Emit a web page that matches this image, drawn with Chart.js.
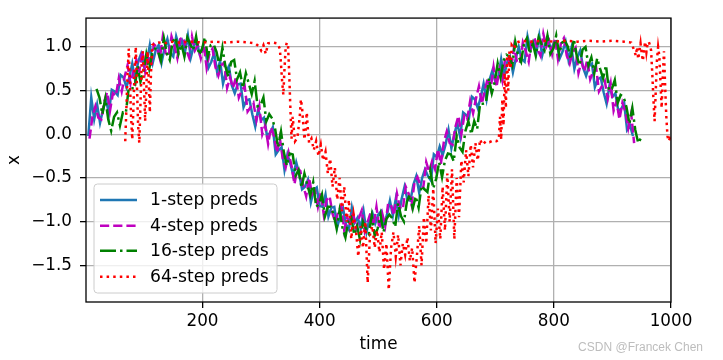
<!DOCTYPE html>
<html>
<head>
<meta charset="utf-8">
<script src="https://cdn.jsdelivr.net/npm/chart.js@4/dist/chart.umd.min.js"></script>
<style>
  html, body { margin: 0; padding: 0; background: #fff; }
  #wrap { width: 723px; height: 360px; }
</style>
</head>
<body>
<div id="wrap"><canvas id="predsChart" width="723" height="360"></canvas></div>
<script>
// ---- data ----
const seriesNames = ['1-step preds', '4-step preds', '16-step preds', '64-step preds'];
const xTicks = [200, 400, 600, 800, 1000];
const yTicks = [-1.5, -1.0, -0.5, 0.0, 0.5, 1.0];

// sampled every 5 time steps
const step = 5;
const start1 = 5, start4 = 7, start16 = 19;

const preds1 = [
  -0.02, 0.42, 0.17, 0.34, 0.13, 0.28, 0.40, 0.24, 0.51, 0.49,
  0.45, 0.68, 0.65, 0.54, 0.65, 0.81, 0.62, 0.83, 0.92, 0.78,
  0.83, 1.02, 0.82, 0.96, 1.02, 0.82, 0.98, 1.09, 0.93, 0.89,
  1.12, 1.00, 1.07, 0.94, 1.13, 0.88, 1.01, 1.06, 0.92, 0.99,
  0.95, 0.76, 0.83, 0.93, 0.71, 0.84, 0.58, 0.71, 0.78, 0.56,
  0.47, 0.57, 0.58, 0.31, 0.39, 0.40, 0.23, 0.09, 0.29, 0.16,
  0.19, -0.01, 0.01, 0.08, -0.23, -0.18, -0.15, -0.41, -0.23, -0.34,
  -0.47, -0.32, -0.45, -0.63, -0.60, -0.52, -0.78, -0.64, -0.61, -0.82,
  -0.83, -0.69, -0.94, -0.84, -0.83, -1.06, -0.94, -0.85, -1.03, -1.09,
  -0.84, -1.01, -0.95, -1.08, -0.88, -1.12, -0.97, -0.90, -1.02, -0.92,
  -0.88, -1.03, -0.92, -0.76, -0.93, -0.74, -0.93, -0.74, -0.60, -0.75,
  -0.76, -0.58, -0.48, -0.67, -0.50, -0.40, -0.48, -0.53, -0.23, -0.26,
  -0.14, -0.24, -0.12, 0.05, -0.16, 0.00, 0.13, -0.03, 0.25, 0.22,
  0.19, 0.43, 0.40, 0.30, 0.42, 0.58, 0.40, 0.62, 0.73, 0.60,
  0.65, 0.86, 0.67, 0.82, 0.89, 0.71, 0.87, 1.00, 0.86, 0.83,
  1.12, 0.97, 1.05, 0.93, 1.13, 0.90, 1.04, 1.10, 0.96, 1.05,
  1.04, 0.87, 0.95, 1.06, 0.85, 0.99, 0.75, 0.88, 0.96, 0.76,
  0.67, 0.78, 0.81, 0.54, 0.63, 0.65, 0.48, 0.35, 0.56, 0.43,
  0.47, 0.27, 0.29, 0.36, 0.05, 0.10, -0.02
];

const preds4 = [
  -0.05, 0.20, 0.32, 0.19, 0.17, 0.37, 0.48, 0.27, 0.47, 0.44,
  0.64, 0.49, 0.66, 0.79, 0.58, 0.72, 0.85, 0.72, 0.96, 0.72,
  0.91, 0.77, 1.03, 1.00, 0.87, 1.11, 0.93, 0.89, 1.12, 1.01,
  0.87, 1.09, 1.11, 0.97, 0.88, 1.12, 0.96, 1.02, 0.87, 1.04,
  0.76, 0.93, 0.98, 0.77, 0.67, 0.79, 0.82, 0.53, 0.65, 0.53,
  0.65, 0.42, 0.50, 0.55, 0.26, 0.31, 0.36, 0.16, 0.32, 0.00,
  0.10, -0.11, 0.08, -0.02, -0.21, -0.04, -0.28, -0.38, -0.21, -0.36,
  -0.57, -0.39, -0.42, -0.59, -0.71, -0.50, -0.69, -0.65, -0.83, -0.67,
  -0.92, -0.75, -0.71, -0.91, -1.01, -0.88, -0.82, -1.10, -0.95, -1.04,
  -0.89, -1.09, -0.96, -0.87, -1.11, -1.00, -0.90, -1.05, -0.83, -1.08,
  -0.91, -1.05, -0.79, -0.81, -0.93, -0.68, -0.84, -0.86, -0.60, -0.68,
  -0.81, -0.55, -0.49, -0.58, -0.61, -0.32, -0.43, -0.31, -0.40, -0.17,
  -0.34, -0.09, 0.03, -0.10, -0.12, 0.09, 0.21, 0.00, 0.21, 0.17,
  0.38, 0.24, 0.41, 0.55, 0.35, 0.50, 0.64, 0.52, 0.77, 0.54,
  0.74, 0.61, 0.88, 0.86, 0.75, 1.00, 0.83, 0.81, 1.05, 0.95,
  0.83, 1.07, 1.10, 0.97, 0.90, 1.15, 1.00, 1.07, 0.92, 1.10,
  0.86, 1.04, 1.10, 0.90, 0.81, 0.94, 0.99, 0.70, 0.83, 0.72,
  0.85, 0.63, 0.72, 0.77, 0.49, 0.55, 0.61, 0.41, 0.58, 0.27,
  0.38, 0.17, 0.36, 0.26, 0.07, 0.24, -0.10
];

const preds16 = [
  0.52, 0.42, 0.23, 0.41, 0.17, 0.04, 0.20, 0.25, 0.10, 0.25,
  0.24, 0.53, 0.53, 0.52, 0.78, 0.60, 0.72, 0.92, 0.75, 0.92,
  0.98, 0.95, 0.84, 1.10, 0.93, 0.85, 1.06, 1.11, 0.92, 1.03,
  0.89, 1.11, 1.03, 0.96, 1.12, 0.91, 0.97, 1.11, 0.89, 1.02,
  1.03, 0.94, 0.78, 0.99, 0.78, 0.66, 0.83, 0.85, 0.63, 0.71,
  0.53, 0.70, 0.58, 0.46, 0.61, 0.32, 0.33, 0.42, 0.15, 0.23,
  0.18, 0.06, -0.15, 0.03, -0.21, -0.36, -0.22, -0.23, -0.47, -0.41,
  -0.61, -0.45, -0.58, -0.70, -0.55, -0.83, -0.80, -0.69, -0.94, -0.83,
  -0.83, -0.92, -1.08, -0.87, -1.07, -1.18, -0.99, -0.95, -1.15, -1.05,
  -1.21, -1.00, -1.08, -1.14, -0.93, -1.16, -1.08, -0.92, -1.12, -0.97,
  -0.92, -0.96, -1.06, -0.79, -0.94, -1.00, -0.77, -0.69, -0.85, -0.71,
  -0.84, -0.59, -0.63, -0.66, -0.42, -0.62, -0.51, -0.32, -0.49, -0.30,
  -0.22, -0.23, -0.31, -0.02, -0.15, -0.20, 0.04, 0.15, 0.00, 0.15,
  0.06, 0.35, 0.35, 0.36, 0.64, 0.47, 0.60, 0.81, 0.65, 0.84,
  0.91, 0.89, 0.79, 1.06, 0.90, 0.83, 1.04, 1.10, 0.92, 1.04,
  0.90, 1.11, 1.03, 0.96, 1.13, 0.92, 0.98, 1.13, 0.91, 1.05,
  1.07, 1.00, 0.86, 1.09, 0.90, 0.79, 0.97, 1.00, 0.79, 0.88,
  0.70, 0.87, 0.75, 0.64, 0.79, 0.50, 0.52, 0.62, 0.36, 0.45,
  0.43, 0.31, 0.12, 0.30, 0.05, -0.10, -0.04
];

// 64-step preds: irregular spacing, so time and value are both listed
const time64 = [
  68, 70, 72, 74, 76, 78, 80, 82, 84, 86, 88, 90, 92, 94, 96, 98, 100, 102, 104, 106,
  108, 110, 112, 114, 118, 125, 135, 145, 160, 180, 200, 220, 240, 260, 280, 290, 296, 300, 304, 308,
  312, 320, 328, 332, 334, 336, 338, 340, 342, 344, 346, 348, 350, 352, 354, 356, 358, 362, 366, 368,
  370, 372, 374, 376, 378, 380, 382, 386, 390, 394, 398, 402, 406, 410, 414, 418, 422, 426, 430, 434,
  438, 442, 446, 450, 454, 458, 462, 466, 470, 474, 478, 482, 486, 490, 494, 498, 502, 506, 510, 514,
  518, 522, 526, 530, 534, 538, 542, 546, 550, 554, 558, 562, 566, 570, 574, 578, 582, 586, 590, 594,
  598, 602, 606, 610, 614, 618, 622, 626, 630, 634, 638, 642, 646, 650, 654, 658, 662, 666, 670, 674,
  678, 684, 690, 696, 702, 706, 708, 710, 712, 714, 716, 718, 720, 722, 724, 726, 728, 732, 736, 745,
  760, 780, 800, 820, 840, 860, 880, 900, 920, 932, 936, 940, 942, 944, 946, 948, 950, 952, 954, 956,
  958, 960, 962, 964, 966, 968, 970, 972, 974, 976, 978, 980, 982, 984, 986, 988, 990, 992, 994, 996,
  998, 1000
];
const preds64 = [
  -0.08, 0.30, 0.70, 0.98, 0.60, 0.20, -0.06, 0.30, 0.75, 1.00, 0.55, 0.10, -0.10, 0.35, 0.80, 0.95, 0.55, 0.15, 0.50, 0.95,
  0.65, 0.25, 0.70, 1.02, 1.04, 1.05, 1.04, 1.06, 1.05, 1.06, 1.05, 1.06, 1.05, 1.06, 1.05, 1.04, 1.01, 0.96, 1.02, 0.92,
  1.04, 1.05, 1.04, 0.98, 0.80, 0.60, 0.45, 0.75, 1.00, 1.05, 1.02, 0.70, 0.30, -0.05, 0.20, 0.05, -0.08, -0.04, 0.20, 0.40,
  0.30, 0.12, -0.06, 0.05, 0.25, 0.05, -0.10, -0.05, -0.18, -0.08, -0.25, -0.12, -0.30, -0.20, -0.45, -0.28, -0.60, -0.38, -0.75, -0.50,
  -0.88, -0.60, -1.00, -0.75, -1.20, -0.92, -1.10, -1.40, -1.05, -1.30, -1.00, -1.70, -1.15, -1.05, -1.30, -1.10, -1.35, -1.12, -1.55, -1.25,
  -1.78, -1.30, -1.12, -1.40, -1.15, -1.50, -1.25, -1.38, -1.18, -1.45, -1.30, -1.70, -1.40, -1.05, -1.50, -0.95, -1.25, -0.70, -1.10, -0.62,
  -1.25, -0.85, -1.20, -0.60, -1.10, -0.45, -1.00, -0.40, -1.20, -0.50, -0.95, -0.30, -0.55, -0.18, -0.48, -0.12, -0.38, -0.10, -0.30, -0.06,
  -0.12, -0.08, -0.09, -0.07, -0.08, -0.06, 0.20, -0.06, 0.40, 0.10, 0.70, 0.30, 0.90, 0.50, 0.95, 0.75, 1.02, 0.98, 1.05, 1.07,
  1.06, 1.07, 1.06, 1.07, 1.06, 1.07, 1.06, 1.07, 1.06, 1.05, 0.98, 0.90, 1.00, 0.86, 0.95, 1.04, 0.92, 0.84, 0.98, 1.06,
  0.94, 1.04, 1.06, 1.02, 0.96, 0.70, 0.40, 0.15, 0.50, 0.85, 1.00, 0.90, 0.60, 0.30, 0.65, 0.95, 0.55, 0.20, -0.02, -0.08,
  -0.05, -0.08
];

// ---- build points from the arrays ----
function evenPoints(first, values) {
  return values.map((v, i) => ({ x: first + i * step, y: v }));
}
const pts1 = evenPoints(start1, preds1);
const pts4 = evenPoints(start4, preds4);
const pts16 = evenPoints(start16, preds16);
const pts64 = time64.map((t, i) => ({ x: t, y: preds64[i] }));

const FONT = 'DejaVu Sans';
const LW = 2.5;
const styles = [
  { color: '#1f77b4', dash: [] },
  { color: '#bf00bf', dash: [9.2, 4] },
  { color: '#008000', dash: [16, 4, 2.5, 4] },
  { color: '#ff0000', dash: [2.5, 4.1] }
];

const frameAndLegend = {
  id: 'frameAndLegend',
  afterDraw(chart) {
    const ctx = chart.ctx;
    const a = chart.chartArea;
    ctx.save();
    // spines
    ctx.strokeStyle = '#000';
    ctx.lineWidth = 1.3;
    ctx.strokeRect(a.left, a.top, a.right - a.left, a.bottom - a.top);

    // legend box
    const bx = 94, by = 184, bw = 183, bh = 109, r = 3.5;
    ctx.beginPath();
    ctx.moveTo(bx + r, by);
    ctx.lineTo(bx + bw - r, by);
    ctx.quadraticCurveTo(bx + bw, by, bx + bw, by + r);
    ctx.lineTo(bx + bw, by + bh - r);
    ctx.quadraticCurveTo(bx + bw, by + bh, bx + bw - r, by + bh);
    ctx.lineTo(bx + r, by + bh);
    ctx.quadraticCurveTo(bx, by + bh, bx, by + bh - r);
    ctx.lineTo(bx, by + r);
    ctx.quadraticCurveTo(bx, by, bx + r, by);
    ctx.closePath();
    ctx.fillStyle = 'rgba(255,255,255,0.8)';
    ctx.fill();
    ctx.strokeStyle = '#cccccc';
    ctx.lineWidth = 1;
    ctx.stroke();

    const rows = [200, 225.7, 250.7, 276.7];
    ctx.font = '17.2px "' + FONT + '"';
    ctx.textBaseline = 'middle';
    ctx.textAlign = 'left';
    seriesNames.forEach((name, i) => {
      ctx.beginPath();
      ctx.setLineDash(styles[i].dash);
      ctx.strokeStyle = styles[i].color;
      ctx.lineWidth = LW;
      ctx.moveTo(100, rows[i]);
      ctx.lineTo(137, rows[i]);
      ctx.stroke();
      ctx.setLineDash([]);
      ctx.fillStyle = '#000';
      ctx.fillText(name, 150, rows[i] + 1);
    });

    // watermark
    ctx.font = '12px "Liberation Sans"';
    ctx.fillStyle = '#bdbdbd';
    ctx.textAlign = 'right';
    ctx.fillText('CSDN @Francek Chen', 703, 348);
    ctx.restore();
  }
};

const tickFont = { family: FONT, size: 16.8 };
const fmtY = v => (v < 0 ? '\u2212' : '') + Math.abs(v).toFixed(1);

new Chart(document.getElementById('predsChart').getContext('2d'), {
  type: 'line',
  data: {
    datasets: [pts1, pts4, pts16, pts64].map((pts, i) => ({
      label: seriesNames[i],
      data: pts,
      borderColor: styles[i].color,
      backgroundColor: styles[i].color,
      borderDash: styles[i].dash,
      borderWidth: LW,
      pointRadius: 0,
      tension: 0,
      fill: false,
      order: 4 - i
    }))
  },
  options: {
    responsive: false,
    animation: false,
    devicePixelRatio: 1,
    layout: { padding: { left: 0, right: 52, top: 16, bottom: 0 } },
    plugins: { legend: { display: false }, tooltip: { enabled: false } },
    scales: {
      x: {
        type: 'linear',
        min: 1,
        max: 1000,
        afterBuildTicks: s => { s.ticks = xTicks.map(v => ({ value: v })); },
        afterFit: s => { s.height = 58; },
        ticks: { font: tickFont, color: '#000', padding: 4, maxRotation: 0, autoSkip: false, callback: v => String(v) },
        grid: { color: '#b0b0b0', lineWidth: 1.3, tickColor: '#000', tickLength: 6, tickWidth: 1.3 },
        border: { display: false },
        title: { display: true, text: 'time', font: tickFont, color: '#000', padding: { top: 0, bottom: 5 } }
      },
      y: {
        min: -1.92,
        max: 1.33,
        afterBuildTicks: s => { s.ticks = yTicks.map(v => ({ value: v })); },
        afterFit: s => { s.width = 86; },
        ticks: { font: tickFont, color: '#000', padding: 8, autoSkip: false, callback: fmtY },
        grid: { color: '#b0b0b0', lineWidth: 1.3, tickColor: '#000', tickLength: 6, tickWidth: 1.3 },
        border: { display: false },
        title: { display: true, text: 'x', font: tickFont, color: '#000', padding: { top: 5, bottom: 0 } }
      }
    }
  },
  plugins: [frameAndLegend]
});
</script>
</body>
</html>
